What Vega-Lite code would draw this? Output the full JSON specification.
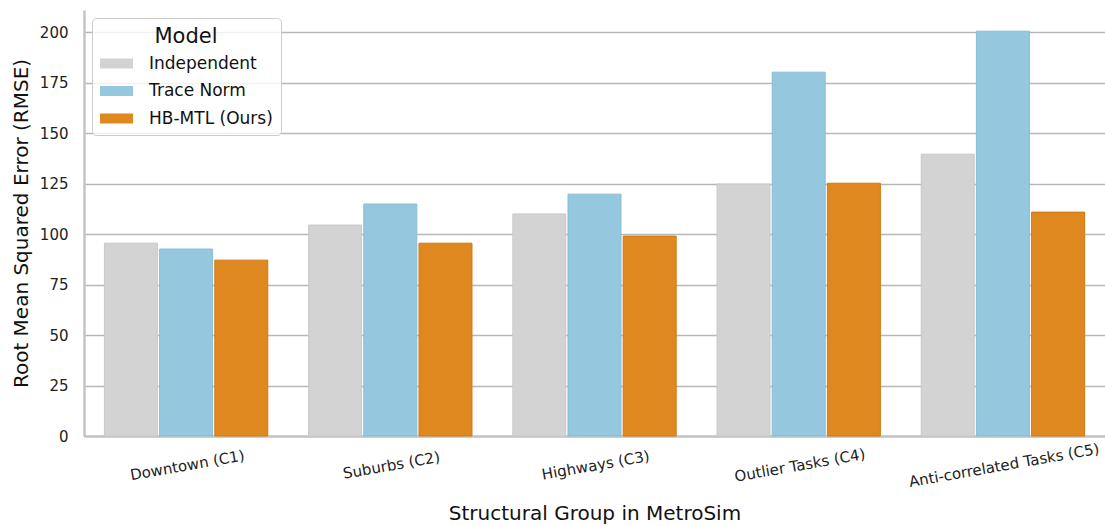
{
  "$schema": "https://vega.github.io/schema/vega-lite/v6.json",
  "width": 1021,
  "height": 426,
  "autosize": {"type": "none"},
  "padding": {"left": 84, "top": 10, "right": 0, "bottom": 90},
  "background": "white",
  "config": {
    "font": "DejaVu Sans",
    "view": {"stroke": null},
    "axis": {"labelFont": "DejaVu Sans", "titleFont": "DejaVu Sans", "labelColor": "#222222", "titleColor": "#111111", "titleFontWeight": "normal"}
  },
  "data": {
    "values": [
      {"group": "Downtown (C1)", "model": "Independent", "rmse": 95.5},
      {"group": "Downtown (C1)", "model": "Trace Norm", "rmse": 92.6},
      {"group": "Downtown (C1)", "model": "HB-MTL (Ours)", "rmse": 87.1},
      {"group": "Suburbs (C2)", "model": "Independent", "rmse": 104.5},
      {"group": "Suburbs (C2)", "model": "Trace Norm", "rmse": 114.9},
      {"group": "Suburbs (C2)", "model": "HB-MTL (Ours)", "rmse": 95.5},
      {"group": "Highways (C3)", "model": "Independent", "rmse": 110.0},
      {"group": "Highways (C3)", "model": "Trace Norm", "rmse": 119.8},
      {"group": "Highways (C3)", "model": "HB-MTL (Ours)", "rmse": 99.0},
      {"group": "Outlier Tasks (C4)", "model": "Independent", "rmse": 124.8},
      {"group": "Outlier Tasks (C4)", "model": "Trace Norm", "rmse": 180.2},
      {"group": "Outlier Tasks (C4)", "model": "HB-MTL (Ours)", "rmse": 125.2},
      {"group": "Anti-correlated Tasks (C5)", "model": "Independent", "rmse": 139.6},
      {"group": "Anti-correlated Tasks (C5)", "model": "Trace Norm", "rmse": 200.5},
      {"group": "Anti-correlated Tasks (C5)", "model": "HB-MTL (Ours)", "rmse": 110.9}
    ]
  },
  "mark": {"type": "bar", "strokeWidth": 1},
  "encoding": {
    "x": {
      "field": "group", "type": "nominal", "sort": null,
      "scale": {"paddingInner": 0.2, "paddingOuter": 0.1},
      "axis": {
        "title": "Structural Group in MetroSim",
        "titleFontSize": 20, "titlePadding": 14,
        "labelAngle": -10, "labelAlign": "center", "labelBaseline": "top",
        "labelFontSize": 15, "labelPadding": 22, "labelLimit": 0,
        "ticks": false, "domainColor": "#c4c4c4", "domainWidth": 2.5,
        "grid": false
      }
    },
    "xOffset": {
      "field": "model", "type": "nominal",
      "sort": ["Independent", "Trace Norm", "HB-MTL (Ours)"],
      "scale": {"paddingInner": 0.04}
    },
    "y": {
      "field": "rmse", "type": "quantitative",
      "scale": {"domain": [0, 211], "nice": false},
      "axis": {
        "title": "Root Mean Squared Error (RMSE)",
        "titleFontSize": 20, "titlePadding": 8,
        "values": [0, 25, 50, 75, 100, 125, 150, 175, 200],
        "labelFontSize": 15, "labelPadding": 16, "ticks": false,
        "domainColor": "#c4c4c4", "domainWidth": 2.5,
        "grid": true, "gridColor": "#b8b8b8", "gridWidth": 1.5
      }
    },
    "color": {
      "field": "model", "type": "nominal",
      "sort": ["Independent", "Trace Norm", "HB-MTL (Ours)"],
      "scale": {"domain": ["Independent", "Trace Norm", "HB-MTL (Ours)"], "range": ["#d3d3d3", "#95c8de", "#e08820"]},
      "legend": {
        "title": "Model",
        "orient": "none", "legendX": 8, "legendY": 8,
        "titleFontSize": 21, "titleFontWeight": "normal", "titleColor": "#111111",
        "titleAnchor": "middle", "titleAlign": "center", "titlePadding": 8,
        "labelFontSize": 17, "labelColor": "#111111", "labelOffset": 24,
        "symbolType": "M-2,-0.6H2V0.6H-2Z", "symbolSize": 272,
        "symbolOffset": 8, "symbolStrokeWidth": 0,
        "rowPadding": 9.5,
        "padding": 8,
        "fillColor": "rgba(255,255,255,0.8)",
        "strokeColor": "#cccccc", "cornerRadius": 4
      }
    },
    "stroke": {
      "field": "model", "type": "nominal",
      "scale": {"domain": ["Independent", "Trace Norm", "HB-MTL (Ours)"], "range": ["#c9c9c9", "#86bdd6", "#cf7a14"]},
      "legend": null
    }
  }
}
